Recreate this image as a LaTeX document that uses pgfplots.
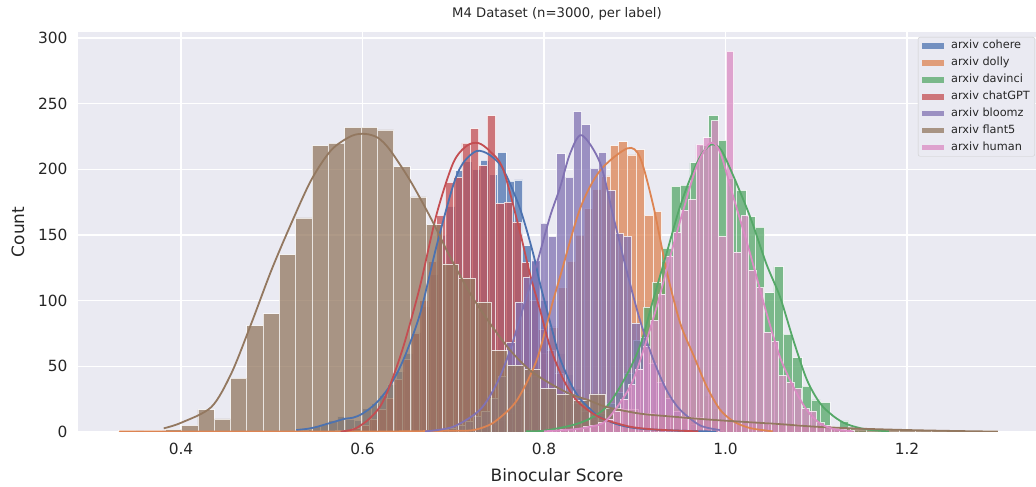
\documentclass[border=0pt]{standalone}
\usepackage{pgfplots}
\pgfplotsset{compat=1.18}
\usepackage{fontspec}
\setmainfont{DejaVu Sans}
\definecolor{bg}{HTML}{EAEAF2}
\definecolor{txt}{HTML}{262626}
\definecolor{legedge}{HTML}{CCCCCC}
\definecolor{cblue}{HTML}{4C72B0}
\definecolor{corange}{HTML}{DD8452}
\definecolor{cgreen}{HTML}{55A868}
\definecolor{cred}{HTML}{C44E52}
\definecolor{cpurple}{HTML}{8172B3}
\definecolor{cbrown}{HTML}{937860}
\definecolor{cpink}{HTML}{DA8BC3}
\pgfplotsset{
  hist/.style={ybar interval, fill=#1, draw=white, fill opacity=0.75, draw opacity=0.75, line width=0.7pt, forget plot},
  kde/.style={smooth, tension=0.5, draw=#1, line width=1.8pt, no marks, forget plot},
}
\begin{document}
\begin{tikzpicture}
\useasboundingbox (-78pt,-55pt) rectangle (958pt,432pt);
\begin{axis}[
  at={(0pt,0pt)}, anchor=south west,
  scale only axis, width=958pt, height=400pt,
  xmin=0.2865, xmax=1.3421, ymin=0, ymax=304.6,
  axis background/.style={fill=bg},
  axis line style={draw=none},
  grid=major, grid style={white, line width=1.1pt},
  major tick length=0pt,
  xtick={0.4,0.6,0.8,1.0,1.2}, xticklabels={0.4,0.6,0.8,1.0,1.2},
  ytick={0,50,100,150,200,250,300},
  /pgf/number format/assume math mode=true,
  tick label style={font=\fontsize{15.4}{18}\selectfont, text=txt},
  xticklabel style={yshift=-8pt},
  yticklabel style={xshift=-7pt},
  xlabel={Binocular Score}, ylabel={Count},
  label style={font=\fontsize{17}{20}\selectfont, text=txt},
  xlabel style={at={(axis description cs:0.5,-0.1075)}, anchor=center},
  ylabel style={at={(axis description cs:-0.0626,0.5)}, anchor=center},
  title={M4 Dataset (n=3000, per label)},
  title style={at={(axis description cs:0.5,1.03)}, anchor=center, font=\fontsize{13.2}{15}\selectfont, text=txt},
  legend image code/.code={\path[#1, draw=none, sharp corners] (0pt,-2.8pt) rectangle (22pt,2.8pt);},
  legend cell align=left,
  legend style={at={(axis description cs:0.8768,0.9875)}, anchor=north west,
    fill=bg, draw=legedge, rounded corners=2pt, inner xsep=4pt, inner ysep=3pt,
    font=\fontsize{11.3}{13}\selectfont, text=txt, row sep=5.2pt,
    /tikz/every odd column/.style={column sep=6pt},
    nodes={inner sep=1pt, text height=0.75em, text depth=0.22em}},
]
\addlegendimage{fill=cblue, fill opacity=0.75}
\addlegendentry{arxiv cohere}
\addlegendimage{fill=corange, fill opacity=0.75}
\addlegendentry{arxiv dolly}
\addlegendimage{fill=cgreen, fill opacity=0.75}
\addlegendentry{arxiv davinci}
\addlegendimage{fill=cred, fill opacity=0.75}
\addlegendentry{arxiv chatGPT}
\addlegendimage{fill=cpurple, fill opacity=0.75}
\addlegendentry{arxiv bloomz}
\addlegendimage{fill=cbrown, fill opacity=0.75}
\addlegendentry{arxiv flant5}
\addlegendimage{fill=cpink, fill opacity=0.75}
\addlegendentry{arxiv human}

% ---------- histograms (left edge, count) ----------
% cohere
\addplot[hist=cblue] coordinates {
(0.5255,1) (0.5348,2) (0.5441,4) (0.5534,6) (0.5627,9) (0.5720,12) (0.5813,10) (0.5906,9)
(0.5999,18) (0.6092,22) (0.6185,28) (0.6278,36) (0.6371,46) (0.6464,60) (0.6557,76) (0.6650,96)
(0.6743,120) (0.6836,150) (0.6929,172) (0.7022,199) (0.7115,206) (0.7208,200) (0.7301,207) (0.7394,196)
(0.7487,213) (0.7580,191) (0.7673,192) (0.7766,142) (0.7859,130) (0.7952,100) (0.8045,80) (0.8138,60)
(0.8231,44) (0.8324,33) (0.8417,24) (0.8510,17) (0.8603,12) (0.8696,9) (0.8789,6) (0.8882,4)
(0.8975,3) (0.9068,2) (0.9161,2) (0.9254,1) (0.9347,1) (0.9440,1) (0.9533,0) (0.9626,1)
(0.9719,0) (0.9812,1) (0.9905,0)};
% dolly
\addplot[hist=corange] coordinates {
(0.3312,1) (0.3407,1) (0.3502,0) (0.3597,1) (0.3692,1) (0.3787,0) (0.3882,0) (0.3977,0)
(0.4072,0) (0.4167,0) (0.4262,0) (0.4357,0) (0.4452,0) (0.4547,0) (0.4642,0) (0.4737,0)
(0.4832,0) (0.4927,0) (0.5022,0) (0.5117,0) (0.5212,0) (0.5307,1) (0.5402,0) (0.5497,0)
(0.5592,0) (0.5687,0) (0.5782,0) (0.5877,1) (0.5972,0) (0.6067,0) (0.6162,0) (0.6257,0)
(0.6352,0) (0.6447,1) (0.6542,0) (0.6637,0) (0.6732,1) (0.6827,0)
(0.6922,1) (0.7017,1) (0.7112,2) (0.7207,2) (0.7302,4) (0.7397,6) (0.7492,9) (0.7587,14)
(0.7682,20) (0.7777,30) (0.7872,42) (0.7967,60) (0.8062,80) (0.8157,110) (0.8252,130) (0.8347,150)
(0.8442,170) (0.8537,185) (0.8632,195) (0.8727,218) (0.8822,221) (0.8917,211) (0.9012,215) (0.9107,165)
(0.9202,168) (0.9297,130) (0.9392,100) (0.9487,75) (0.9582,55) (0.9677,40) (0.9772,28) (0.9867,18)
(0.9962,10) (1.0057,6) (1.0152,3) (1.0247,2) (1.0342,1) (1.0437,1) (1.0532,0)};
% davinci
\addplot[hist=cgreen] coordinates {
(0.7856,1) (0.7959,1) (0.8062,2) (0.8165,3) (0.8268,4) (0.8371,6) (0.8474,10) (0.8577,14)
(0.8680,22) (0.8783,30) (0.8886,45) (0.8989,70) (0.9092,95) (0.9195,114) (0.9298,140) (0.9401,187)
(0.9504,188) (0.9607,205) (0.9710,218) (0.9813,241) (0.9916,222) (1.0019,193) (1.0122,184) (1.0225,164)
(1.0328,156) (1.0431,106) (1.0534,126) (1.0637,74.5) (1.0740,56.6) (1.0843,35) (1.0946,24.4) (1.1049,22.6)
(1.1152,3) (1.1255,8.4) (1.1358,1) (1.1461,1) (1.1564,0)};
% chatGPT
\addplot[hist=cred] coordinates {
(0.5700,1) (0.5793,1) (0.5886,3) (0.5979,5) (0.6072,10) (0.6165,17) (0.6258,26) (0.6351,40)
(0.6444,55) (0.6537,75) (0.6630,100) (0.6723,130) (0.6816,165) (0.6909,190) (0.7002,194) (0.7095,220)
(0.7188,231) (0.7281,203) (0.7374,241) (0.7467,174) (0.7560,175) (0.7653,160) (0.7746,129) (0.7839,100)
(0.7932,78) (0.8025,62) (0.8118,45) (0.8211,30) (0.8304,22) (0.8397,16) (0.8490,12) (0.8583,9)
(0.8676,7) (0.8769,5) (0.8862,4) (0.8955,3) (0.9048,2) (0.9141,2) (0.9234,1) (0.9327,1)
(0.9420,1) (0.9513,0) (0.9606,0)};
% bloomz
\addplot[hist=cpurple] coordinates {
(0.6671,1) (0.6763,1) (0.6855,2) (0.6946,3) (0.7038,5) (0.7130,8) (0.7222,12) (0.7314,16)
(0.7405,26) (0.7497,42) (0.7589,68) (0.7681,99) (0.7773,118) (0.7864,131) (0.7956,159) (0.8048,149)
(0.8140,212) (0.8231,194) (0.8323,244) (0.8415,234) (0.8507,201) (0.8599,213) (0.8690,184) (0.8782,151)
(0.8874,149) (0.8966,83) (0.9058,72) (0.9149,52) (0.9241,38) (0.9333,26) (0.9425,16) (0.9517,10)
(0.9608,6) (0.9700,3) (0.9792,2) (0.9884,1) (0.9976,0)};
% flant5
\addplot[hist=cbrown] coordinates {
(0.3827,2) (0.4007,5) (0.4186,17) (0.4366,10) (0.4546,41) (0.4725,81) (0.4905,90) (0.5085,135)
(0.5264,163) (0.5444,218) (0.5624,220) (0.5804,232) (0.5983,232) (0.6163,230) (0.6343,202) (0.6522,179)
(0.6702,158) (0.6882,128) (0.7061,117) (0.7241,99) (0.7421,62) (0.7600,51) (0.7780,48) (0.7960,33)
(0.8139,29) (0.8319,24) (0.8499,29) (0.8678,18) (0.8858,17) (0.9038,14) (0.9217,13) (0.9397,12)
(0.9577,11) (0.9756,10) (0.9936,9) (1.0116,8) (1.0295,7) (1.0475,6) (1.0655,6) (1.0835,4)
(1.1014,4) (1.1194,3) (1.1374,3) (1.1553,2) (1.1733,2) (1.1913,1) (1.2092,1) (1.2272,1)
(1.2452,1) (1.2631,0) (1.2811,1) (1.2991,0)};
% human
\addplot[hist=cpink] coordinates {
(0.8014,1) (0.8097,1) (0.8180,2) (0.8263,2) (0.8346,3) (0.8429,4) (0.8512,5) (0.8595,7)
(0.8678,10) (0.8761,16) (0.8844,25) (0.8927,36) (0.9010,48) (0.9093,65) (0.9176,85) (0.9259,105)
(0.9342,134) (0.9425,152) (0.9508,169) (0.9591,177) (0.9674,219) (0.9757,224) (0.9840,237) (0.9923,149)
(1.0006,290) (1.0089,137) (1.0172,165) (1.0255,123) (1.0338,110) (1.0421,76) (1.0504,69) (1.0587,43)
(1.0670,38) (1.0753,33) (1.0836,18) (1.0919,16) (1.1002,7) (1.1085,5) (1.1168,3) (1.1251,2)
(1.1334,1) (1.1417,0)};

% ---------- KDE curves ----------
\addplot[kde=cblue] coordinates {
(0.527,1.5) (0.54,2.5) (0.55,4) (0.56,6) (0.57,8) (0.58,10) (0.59,11) (0.60,14) (0.615,22)
(0.63,35) (0.645,55) (0.6634,90) (0.6817,142) (0.700,188) (0.711,205) (0.7258,214) (0.74,211)
(0.755,200) (0.7736,170) (0.788,136) (0.7956,113) (0.81,75) (0.8176,56) (0.83,36) (0.84,25)
(0.85,18) (0.86,12) (0.88,6) (0.90,3) (0.93,1.5) (0.96,0.8) (0.99,0.3)};
\addplot[kde=corange] coordinates {
(0.332,0.3) (0.40,0.3) (0.50,0.3) (0.60,0.4) (0.65,0.5) (0.70,1) (0.72,1.2) (0.735,4) (0.748,9)
(0.77,24) (0.792,55) (0.81,100) (0.8176,118) (0.8397,170) (0.8617,199) (0.8919,216) (0.9058,209)
(0.9205,172) (0.935,123) (0.95,83) (0.965,58) (0.979,35) (0.994,17) (1.009,8) (1.027,3) (1.052,0.5)};
\addplot[kde=cgreen] coordinates {
(0.78,0.5) (0.80,1) (0.83,5) (0.85,10) (0.87,20) (0.89,42) (0.906,66) (0.92,100) (0.935,136)
(0.95,172) (0.964,198) (0.975,213) (0.985,219) (0.995,215) (1.0086,195) (1.027,164) (1.045,128)
(1.06,103) (1.0747,70) (1.0895,40) (1.104,22) (1.119,12) (1.1335,6) (1.155,2) (1.18,0.5)};
\addplot[kde=cred] coordinates {
(0.576,0.3) (0.59,2) (0.60,6) (0.609,11) (0.62,20) (0.630,35) (0.645,65) (0.663,110) (0.6817,166)
(0.700,205) (0.715,218) (0.7277,220) (0.74,214) (0.755,200) (0.7736,152) (0.7846,120) (0.7956,93)
(0.8066,65) (0.8213,40) (0.836,24) (0.854,14) (0.869,9) (0.895,4) (0.92,2) (0.95,1) (0.97,0.5)};
\addplot[kde=cpurple] coordinates {
(0.669,0.5) (0.70,4) (0.7295,17) (0.748,37) (0.7625,62) (0.7772,95) (0.792,128) (0.8066,164)
(0.8176,186) (0.8287,212) (0.8415,226) (0.8617,205) (0.8764,164) (0.891,123) (0.9058,85) (0.9205,55)
(0.935,32) (0.9499,17) (0.972,5) (0.994,1.5)};
\addplot[kde=cbrown] coordinates {
(0.381,2.8) (0.40,7) (0.4334,19) (0.4555,44.7) (0.4775,82.7) (0.4995,123) (0.5216,159) (0.5436,192)
(0.5656,214.7) (0.5877,225.4) (0.603,227) (0.617,224) (0.630,215) (0.652,192) (0.6744,164)
(0.6964,133.5) (0.7185,105.6) (0.7405,82.7) (0.7625,62.4) (0.7846,47) (0.8066,37) (0.8287,29)
(0.85,24) (0.869,19) (0.9058,14) (0.942,11.7) (0.979,9.6) (1.016,7.9) (1.06,6) (1.10,4)
(1.15,2.5) (1.2,1.5) (1.25,0.8) (1.30,0.3)};
\addplot[kde=cpink] coordinates {
(0.80,0.5) (0.832,2) (0.8507,4) (0.869,9) (0.8948,34.5) (0.9094,62) (0.924,95) (0.939,133.5)
(0.9535,169) (0.968,202) (0.983,220) (0.994,213) (1.0086,179) (1.027,136) (1.0454,90) (1.06,57)
(1.0747,34.5) (1.0895,16.7) (1.104,6.6) (1.1188,2.3) (1.1335,1) (1.14,0.5)};
\end{axis}
\end{tikzpicture}
\end{document}
